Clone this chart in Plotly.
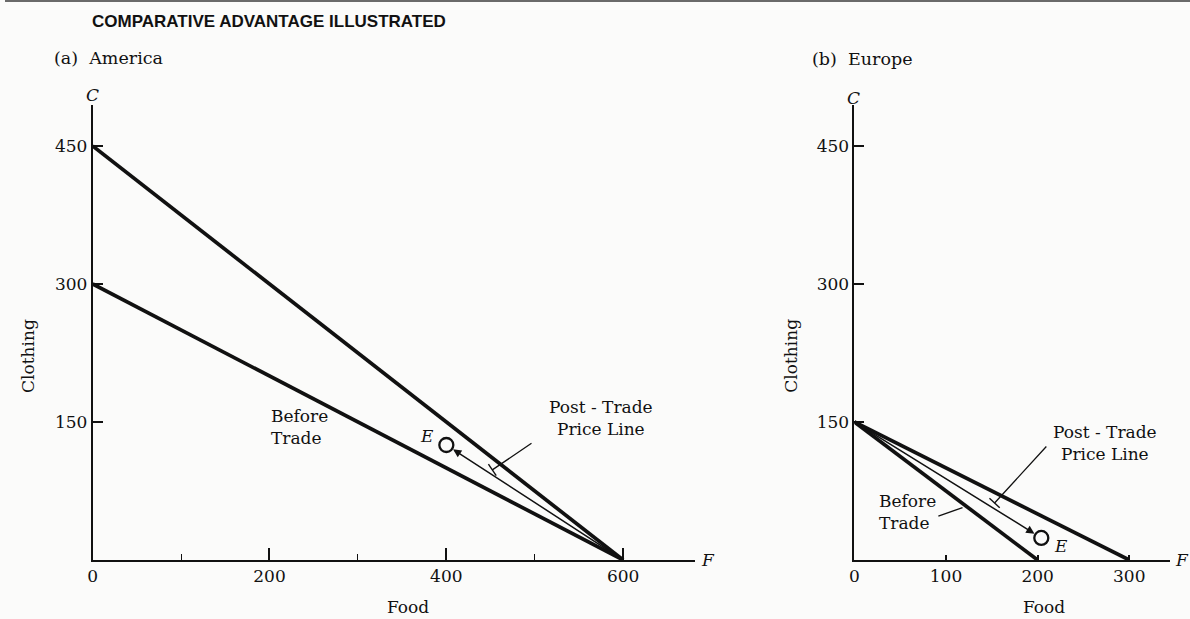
import plotly.graph_objects as go

# ---------------- data ----------------
title_text = "COMPARATIVE ADVANTAGE ILLUSTRATED"
panel_titles = ["(a)  America", "(b)  Europe"]

# America (food F, clothing C)
am_before_F = [0, 600]
am_before_C = [300, 0]
am_post_F = [0, 600]
am_post_C = [450, 0]
am_E = (400, 125)          # consumption point after trade
am_arrow_start = (600, 0)  # production point

# Europe
eu_before_F = [0, 200]
eu_before_C = [150, 0]
eu_post_F = [0, 300]
eu_post_C = [150, 0]
eu_E = (204, 24)
eu_arrow_start = (0, 150)

# ticks
am_x_ticks = [0, 200, 400, 600]
am_x_minor = [100, 300, 500]
eu_x_ticks = [0, 100, 200, 300]
y_ticks = [150, 300, 450]

# label anchors (data coords)
am_before_label = (199, 145)
am_post_label = (575, 154)
am_post_leader = [(498, 128), (452, 98)]
eu_before_label = (58, 52)
eu_before_leader = [(90, 47), (118, 57)]
eu_post_label = (274, 127)
eu_post_leader = [(211, 125), (153, 62)]

# ---------------- layout helpers ----------------
W, H = 1190, 619
INK = "#111111"
SERIF = "DejaVu Serif"


def px(x):
    return x / W


def py(y):
    return 1 - y / H


fig = go.Figure()

line_thick = dict(color=INK, width=3.7)

# America lines
fig.add_trace(go.Scatter(x=am_post_F, y=am_post_C, mode="lines", line=line_thick,
                         xaxis="x", yaxis="y", hoverinfo="skip"))
fig.add_trace(go.Scatter(x=am_before_F, y=am_before_C, mode="lines", line=line_thick,
                         xaxis="x", yaxis="y", hoverinfo="skip"))
fig.add_trace(go.Scatter(x=[am_E[0]], y=[am_E[1]], mode="markers",
                         marker=dict(symbol="circle-open", size=14, color=INK, line=dict(width=2.3)),
                         xaxis="x", yaxis="y", hoverinfo="skip"))

# Europe lines
fig.add_trace(go.Scatter(x=eu_post_F, y=eu_post_C, mode="lines", line=line_thick,
                         xaxis="x2", yaxis="y2", hoverinfo="skip"))
fig.add_trace(go.Scatter(x=eu_before_F, y=eu_before_C, mode="lines", line=line_thick,
                         xaxis="x2", yaxis="y2", hoverinfo="skip"))
fig.add_trace(go.Scatter(x=[eu_E[0]], y=[eu_E[1]], mode="markers",
                         marker=dict(symbol="circle-open", size=14, color=INK, line=dict(width=2.3)),
                         xaxis="x2", yaxis="y2", hoverinfo="skip"))

# axis geometry (pixels)
AM_X0, AM_X1 = 88, 693
EU_X0, EU_X1 = 853, 1170
Y_BOT, Y_TOP = 560, 105
AM_XMAX = (AM_X1 - AM_X0) / 0.888
EU_XMAX = (EU_X1 - EU_X0) / 0.92
YMAX = (Y_BOT - Y_TOP) / 0.92

tickfont = dict(family=SERIF, size=17, color=INK)
common_axis = dict(showline=True, linecolor=INK, linewidth=1.8, showgrid=False, zeroline=False,
                   ticks="inside", tickcolor=INK, tickwidth=1.5, tickfont=tickfont, fixedrange=True)

fig.update_layout(
    width=W, height=H,
    margin=dict(l=0, r=0, t=0, b=0),
    paper_bgcolor="#fbfbfa", plot_bgcolor="rgba(0,0,0,0)",
    showlegend=False,
    xaxis=dict(domain=[px(AM_X0), px(AM_X1)], range=[0, AM_XMAX], anchor="y",
               tickvals=am_x_ticks, ticklen=12,
               minor=dict(tickvals=am_x_minor, ticklen=6, ticks="inside", tickcolor=INK, tickwidth=1.3),
               **common_axis),
    yaxis=dict(domain=[py(Y_BOT), py(Y_TOP)], range=[0, YMAX], anchor="x",
               tickvals=y_ticks, ticklen=10, **common_axis),
    xaxis2=dict(domain=[px(EU_X0), px(EU_X1)], range=[0, EU_XMAX], anchor="y2",
                tickvals=eu_x_ticks, ticklen=5, **common_axis),
    yaxis2=dict(domain=[py(Y_BOT), py(Y_TOP)], range=[0, YMAX], anchor="x2",
                tickvals=y_ticks, ticklen=10, **common_axis),
)

ann = []
# title and panel names
ann.append(dict(text="<b>" + title_text + "</b>", x=px(85), y=py(21), xref="paper", yref="paper",
                xanchor="left", yanchor="middle", showarrow=False,
                font=dict(family="Liberation Sans", size=17, color=INK)))
ann.append(dict(text=panel_titles[0], x=px(47), y=py(58), xref="paper", yref="paper",
                xanchor="left", yanchor="middle", showarrow=False,
                font=dict(family=SERIF, size=17.5, color=INK)))
ann.append(dict(text=panel_titles[1], x=px(808), y=py(59), xref="paper", yref="paper",
                xanchor="left", yanchor="middle", showarrow=False,
                font=dict(family=SERIF, size=17.5, color=INK)))

# axis letter labels
for (xx, yy, t) in [(88, 95, "C"), (852, 98, "C"), (706, 560, "F"), (1182, 560, "F")]:
    ann.append(dict(text="<i>" + t + "</i>", x=px(xx), y=py(yy), xref="paper", yref="paper",
                    xanchor="center", yanchor="middle", showarrow=False,
                    font=dict(family=SERIF, size=17, color=INK)))

# axis titles
for (xx, t) in [(405, "Food"), (1043, "Food")]:
    ann.append(dict(text=t, x=px(xx), y=py(607), xref="paper", yref="paper",
                    xanchor="center", yanchor="middle", showarrow=False,
                    font=dict(family=SERIF, size=17, color=INK)))
for xx in [23, 789]:
    ann.append(dict(text="Clothing", x=px(xx), y=py(356), xref="paper", yref="paper",
                    xanchor="center", yanchor="middle", showarrow=False, textangle=-90,
                    font=dict(family=SERIF, size=17, color=INK)))

lab_font = dict(family=SERIF, size=17, color=INK)

# America labels
ann.append(dict(text="Before<br>Trade", x=am_before_label[0], y=am_before_label[1], xref="x", yref="y",
                xanchor="left", yanchor="middle", align="left", showarrow=False, font=lab_font))
ann.append(dict(text="Post - Trade<br>Price Line", x=am_post_label[0], y=am_post_label[1], xref="x", yref="y",
                xanchor="center", yanchor="middle", align="center", showarrow=False, font=lab_font))
ann.append(dict(text="<i>E</i>", x=am_E[0], y=am_E[1], xref="x", yref="y", xshift=-19, yshift=9,
                showarrow=False, font=dict(family=SERIF, size=17, color=INK)))
# America arrow production -> consumption
ann.append(dict(text="", x=am_E[0], y=am_E[1], ax=am_arrow_start[0], ay=am_arrow_start[1],
                xref="x", yref="y", axref="x", ayref="y", showarrow=True,
                arrowhead=2, arrowsize=1.1, arrowwidth=1.5, arrowcolor=INK, standoff=8))
# America leader
ann.append(dict(text="", x=am_post_leader[1][0], y=am_post_leader[1][1],
                ax=am_post_leader[0][0], ay=am_post_leader[0][1],
                xref="x", yref="y", axref="x", ayref="y", showarrow=True,
                arrowhead=0, arrowwidth=1.3, arrowcolor=INK))

# Europe labels
ann.append(dict(text="Before<br>Trade", x=eu_before_label[0], y=eu_before_label[1], xref="x2", yref="y2",
                xanchor="center", yanchor="middle", align="left", showarrow=False, font=lab_font))
ann.append(dict(text="Post - Trade<br>Price Line", x=eu_post_label[0], y=eu_post_label[1], xref="x2", yref="y2",
                xanchor="center", yanchor="middle", align="center", showarrow=False, font=lab_font))
ann.append(dict(text="<i>E</i>", x=eu_E[0], y=eu_E[1], xref="x2", yref="y2", xshift=20, yshift=-8,
                showarrow=False, font=dict(family=SERIF, size=17, color=INK)))
ann.append(dict(text="", x=eu_E[0], y=eu_E[1], ax=eu_arrow_start[0], ay=eu_arrow_start[1],
                xref="x2", yref="y2", axref="x2", ayref="y2", showarrow=True,
                arrowhead=2, arrowsize=1.1, arrowwidth=1.5, arrowcolor=INK, standoff=8))
ann.append(dict(text="", x=eu_post_leader[1][0], y=eu_post_leader[1][1],
                ax=eu_post_leader[0][0], ay=eu_post_leader[0][1],
                xref="x2", yref="y2", axref="x2", ayref="y2", showarrow=True,
                arrowhead=0, arrowwidth=1.3, arrowcolor=INK))
ann.append(dict(text="", x=eu_before_leader[1][0], y=eu_before_leader[1][1],
                ax=eu_before_leader[0][0], ay=eu_before_leader[0][1],
                xref="x2", yref="y2", axref="x2", ayref="y2", showarrow=True,
                arrowhead=0, arrowwidth=1.3, arrowcolor=INK))

fig.update_layout(annotations=ann)

# small cross-bars at the ends of the post-trade leaders (perpendicular, in pixel space)
shapes = []
for (lead, xr, yr, sx) in [(am_post_leader, "x", "y", 0.888), (eu_post_leader, "x2", "y2", 0.92)]:
    (x0, y0), (x1, y1) = lead
    dxp, dyp = (x1 - x0) * sx, (y1 - y0) * 0.92
    n = (dxp ** 2 + dyp ** 2) ** 0.5
    ux, uy = -dyp / n, dxp / n
    half = 7
    shapes.append(dict(type="line", xref=xr, yref=yr,
                       x0=x1 - ux * half / sx, y0=y1 - uy * half / 0.92,
                       x1=x1 + ux * half / sx, y1=y1 + uy * half / 0.92,
                       line=dict(color=INK, width=1.4)))
# top page edge of the scan
shapes.append(dict(type="line", xref="paper", yref="paper", x0=0, x1=1, y0=py(1), y1=py(1),
                   line=dict(color="#6a6a6a", width=2)))
fig.update_layout(shapes=shapes)

fig.write_html("out.html", config={"displayModeBar": False},
               post_script="document.body.style.margin='0px';document.body.style.overflow='hidden';")
